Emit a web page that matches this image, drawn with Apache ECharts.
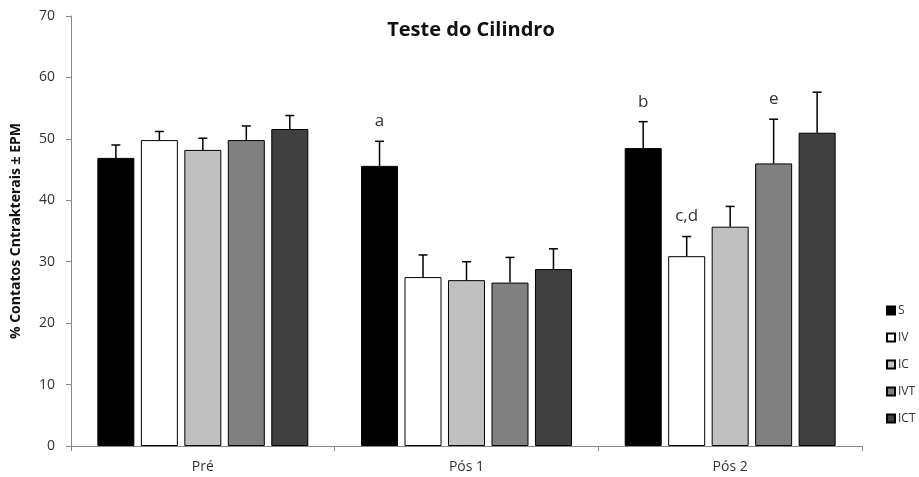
<!DOCTYPE html>
<html><head><meta charset="utf-8">
<script src="https://cdn.jsdelivr.net/npm/echarts@6/dist/echarts.min.js"></script>
<style>html,body{margin:0;padding:0;background:#fff}#c{width:919px;height:477px}</style>
</head><body><div id="c"></div>
<script>
const categories = ['Pré', 'Pós 1', 'Pós 2'];
const seriesNames = ['S', 'IV', 'IC', 'IVT', 'ICT'];
const S = [46.9, 45.6, 48.5];
const IV = [49.8, 27.5, 30.9];
const IC = [48.2, 27.0, 35.7];
const IVT = [49.8, 26.6, 46.0];
const ICT = [51.6, 28.8, 51.0];
const S_err = [2.1, 4.0, 4.3];
const IV_err = [1.4, 3.6, 3.2];
const IC_err = [1.9, 3.0, 3.3];
const IVT_err = [2.3, 4.1, 7.2];
const ICT_err = [2.2, 3.3, 6.6];
const S_sig = ['', 'a', 'b'];
const IV_sig = ['', '', 'c,d'];
const IC_sig = ['', '', ''];
const IVT_sig = ['', '', 'e'];
const ICT_sig = ['', '', ''];
const yTicks = [0, 10, 20, 30, 40, 50, 60, 70];

const values = [S, IV, IC, IVT, ICT];
const errs = [S_err, IV_err, IC_err, IVT_err, ICT_err];
const sigs = [S_sig, IV_sig, IC_sig, IVT_sig, ICT_sig];
const colors = ['#000000', '#ffffff', '#c0c0c0', '#808080', '#404040'];
const CAT_GAP = 0.2, BAR_GAP = 0.175, N = seriesNames.length;

const chart = echarts.init(document.getElementById('c'));
const series = [];
seriesNames.forEach((name, k) => {
  series.push({
    name, type: 'bar', data: values[k],
    barCategoryGap: '20%', barGap: '17.5%',
    itemStyle: { color: colors[k], borderColor: '#000', borderWidth: 1 },
    emphasis: { disabled: true }, z: 2
  });
});
seriesNames.forEach((name, k) => {
  series.push({
    name: name + ' err', type: 'custom', z: 3, silent: true,
    data: categories.map((c, i) => [i, values[k][i], errs[k][i]]),
    encode: { x: 0, y: 1 },
    renderItem: function (params, api) {
      const ci = api.value(0), v = api.value(1), e = api.value(2);
      const label = sigs[k][ci];
      const catW = api.size([1, 0])[0];
      const bw = catW * (1 - CAT_GAP) / (N + (N - 1) * BAR_GAP);
      const off = (k - (N - 1) / 2) * bw * (1 + BAR_GAP);
      const p0 = api.coord([ci, v]);
      const p1 = api.coord([ci, v + e]);
      const x = p0[0] + off;
      const style = { stroke: '#000', lineWidth: 1.5 };
      const children = [
        { type: 'line', shape: { x1: x, y1: p0[1], x2: x, y2: p1[1] }, style },
        { type: 'line', shape: { x1: x - 4.5, y1: p1[1], x2: x + 4.5, y2: p1[1] }, style }
      ];
      if (label) {
        children.push({ type: 'text', x: x, y: p1[1] - 20,
          style: { text: label, fill: '#333', font: '17px "Open Sans", sans-serif', align: 'center', verticalAlign: 'middle' } });
      }
      return { type: 'group', children };
    }
  });
});

chart.setOption({
  animation: false,
  backgroundColor: '#fff',
  title: { text: 'Teste do Cilindro', left: 466, top: 15, textAlign: 'center',
    textStyle: { fontFamily: 'Open Sans', fontSize: 20, fontWeight: 'bold', color: '#111' } },
  legend: { orient: 'vertical', left: 881, top: 299, itemWidth: 8, itemHeight: 8, itemGap: 14,
    data: seriesNames, icon: 'rect', selectedMode: false,
    textStyle: { fontFamily: 'Open Sans', fontSize: 12, lineHeight: 13, color: '#333', padding: [0, 0, 0, -2] } },
  grid: { left: 71, right: 57, top: 16, bottom: 31, containLabel: false },
  xAxis: { type: 'category', data: categories,
    axisLine: { lineStyle: { color: '#888' } },
    axisTick: { show: true, length: 5, lineStyle: { color: '#888' } },
    axisLabel: { fontFamily: 'Open Sans', fontSize: 14, color: '#333', margin: 14 } },
  yAxis: { type: 'value', min: yTicks[0], max: yTicks[yTicks.length - 1], interval: 10,
    name: '% Contatos Cntrakterais ± EPM', nameLocation: 'middle', nameGap: 48, nameRotate: 90,
    nameTextStyle: { fontFamily: 'Open Sans', fontSize: 14, fontWeight: 'bold', color: '#111' },
    axisLine: { show: true, lineStyle: { color: '#888' } },
    axisTick: { show: true, length: 5, lineStyle: { color: '#888' } },
    splitLine: { show: false },
    axisLabel: { fontFamily: 'Open Sans', fontSize: 14, color: '#333', margin: 16 } },
  series
});
</script></body></html>
